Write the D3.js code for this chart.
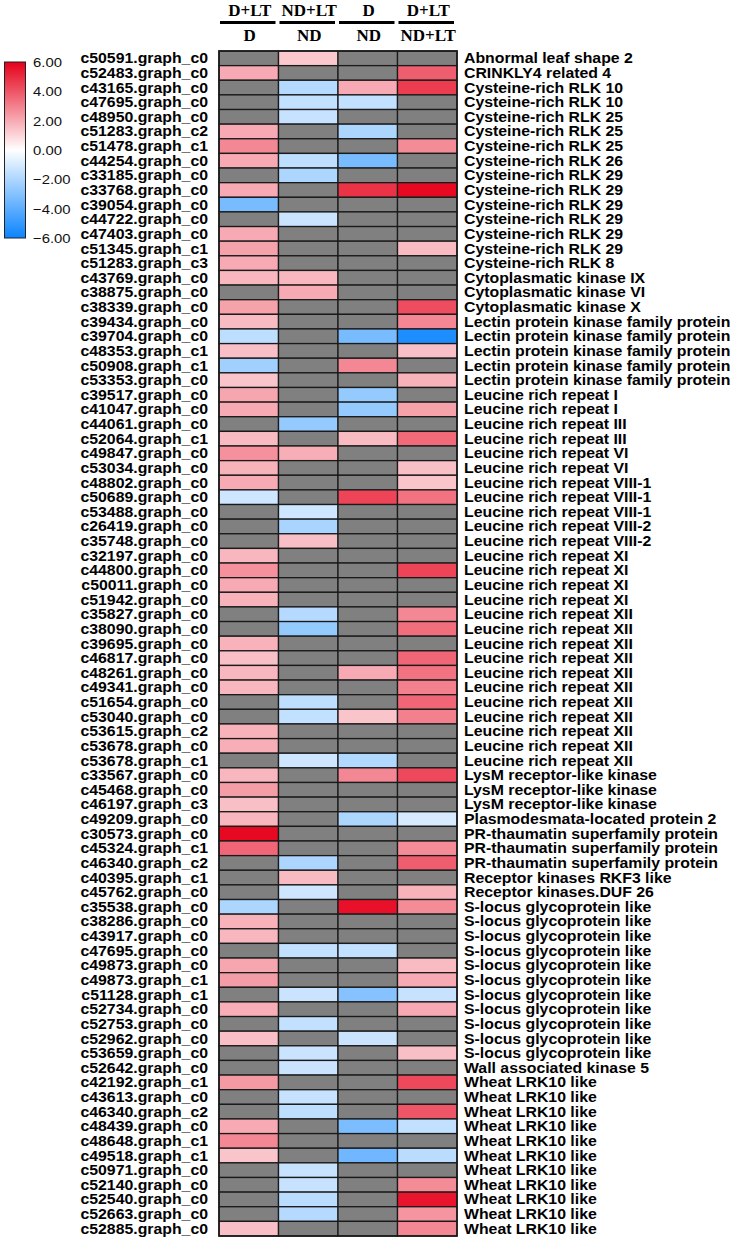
<!DOCTYPE html>
<html><head><meta charset="utf-8">
<script src="https://cdn.jsdelivr.net/npm/d3@7"></script>
<style>body{margin:0;background:#fff}svg{display:block}</style>
</head><body>
<svg id="chart" width="737" height="1241"></svg>
<script>
const genes = ["c50591.graph_c0","c52483.graph_c0","c43165.graph_c0","c47695.graph_c0","c48950.graph_c0","c51283.graph_c2","c51478.graph_c1","c44254.graph_c0","c33185.graph_c0","c33768.graph_c0",
"c39054.graph_c0","c44722.graph_c0","c47403.graph_c0","c51345.graph_c1","c51283.graph_c3","c43769.graph_c0","c38875.graph_c0","c38339.graph_c0","c39434.graph_c0","c39704.graph_c0",
"c48353.graph_c1","c50908.graph_c1","c53353.graph_c0","c39517.graph_c0","c41047.graph_c0","c44061.graph_c0","c52064.graph_c1","c49847.graph_c0","c53034.graph_c0","c48802.graph_c0",
"c50689.graph_c0","c53488.graph_c0","c26419.graph_c0","c35748.graph_c0","c32197.graph_c0","c44800.graph_c0","c50011.graph_c0","c51942.graph_c0","c35827.graph_c0","c38090.graph_c0",
"c39695.graph_c0","c46817.graph_c0","c48261.graph_c0","c49341.graph_c0","c51654.graph_c0","c53040.graph_c0","c53615.graph_c2","c53678.graph_c0","c53678.graph_c1","c33567.graph_c0",
"c45468.graph_c0","c46197.graph_c3","c49209.graph_c0","c30573.graph_c0","c45324.graph_c1","c46340.graph_c2","c40395.graph_c1","c45762.graph_c0","c35538.graph_c0","c38286.graph_c0",
"c43917.graph_c0","c47695.graph_c0","c49873.graph_c0","c49873.graph_c1","c51128.graph_c1","c52734.graph_c0","c52753.graph_c0","c52962.graph_c0","c53659.graph_c0","c52642.graph_c0",
"c42192.graph_c1","c43613.graph_c0","c46340.graph_c2","c48439.graph_c0","c48648.graph_c1","c49518.graph_c1","c50971.graph_c0","c52140.graph_c0","c52540.graph_c0","c52663.graph_c0","c52885.graph_c0"];

const annotations = ["Abnormal leaf shape 2","CRINKLY4 related 4","Cysteine-rich RLK 10","Cysteine-rich RLK 10","Cysteine-rich RLK 25","Cysteine-rich RLK 25","Cysteine-rich RLK 25","Cysteine-rich RLK 26","Cysteine-rich RLK 29","Cysteine-rich RLK 29",
"Cysteine-rich RLK 29","Cysteine-rich RLK 29","Cysteine-rich RLK 29","Cysteine-rich RLK 29","Cysteine-rich RLK 8","Cytoplasmatic kinase IX","Cytoplasmatic kinase VI","Cytoplasmatic kinase X","Lectin protein kinase family protein","Lectin protein kinase family protein",
"Lectin protein kinase family protein","Lectin protein kinase family protein","Lectin protein kinase family protein","Leucine rich repeat I","Leucine rich repeat I","Leucine rich repeat III","Leucine rich repeat III","Leucine rich repeat VI","Leucine rich repeat VI","Leucine rich repeat VIII-1",
"Leucine rich repeat VIII-1","Leucine rich repeat VIII-1","Leucine rich repeat VIII-2","Leucine rich repeat VIII-2","Leucine rich repeat XI","Leucine rich repeat XI","Leucine rich repeat XI","Leucine rich repeat XI","Leucine rich repeat XII","Leucine rich repeat XII",
"Leucine rich repeat XII","Leucine rich repeat XII","Leucine rich repeat XII","Leucine rich repeat XII","Leucine rich repeat XII","Leucine rich repeat XII","Leucine rich repeat XII","Leucine rich repeat XII","Leucine rich repeat XII","LysM receptor-like kinase",
"LysM receptor-like kinase","LysM receptor-like kinase","Plasmodesmata-located protein 2","PR-thaumatin superfamily protein","PR-thaumatin superfamily protein","PR-thaumatin superfamily protein","Receptor kinases RKF3 like","Receptor kinases.DUF 26","S-locus glycoprotein like","S-locus glycoprotein like",
"S-locus glycoprotein like","S-locus glycoprotein like","S-locus glycoprotein like","S-locus glycoprotein like","S-locus glycoprotein like","S-locus glycoprotein like","S-locus glycoprotein like","S-locus glycoprotein like","S-locus glycoprotein like","Wall associated kinase 5",
"Wheat LRK10 like","Wheat LRK10 like","Wheat LRK10 like","Wheat LRK10 like","Wheat LRK10 like","Wheat LRK10 like","Wheat LRK10 like","Wheat LRK10 like","Wheat LRK10 like","Wheat LRK10 like","Wheat LRK10 like"];

const topHeaders = ["D+LT","ND+LT","D","D+LT"];
const bottomHeaders = ["D","ND","ND","ND+LT"];

// log2 fold change; null = not significant (grey)
const DLT_vs_D = [null,2.0,null,null,null,2.0,2.8,2.0,null,2.0,
-3.3,null,2.0,2.2,2.0,1.7,null,2.2,1.6,-1.6,
1.5,-2.3,1.4,2.1,2.0,null,1.6,2.6,1.8,2.0,
-1.2,null,null,null,1.7,2.6,2.0,1.8,null,null,
1.8,1.5,1.7,1.7,null,null,1.8,1.9,null,1.7,
2.3,1.5,1.7,5.8,3.6,null,null,null,-2.0,1.8,
1.7,null,2.1,2.3,null,1.9,null,1.5,null,null,
2.4,null,null,2.0,2.8,1.4,null,null,null,null,1.5];
const NDLT_vs_ND = [1.3,null,-1.8,-1.5,-1.4,null,null,-1.6,-2.0,null,
null,-1.3,null,null,null,1.7,2.0,null,null,null,
null,null,null,null,null,-2.6,null,1.9,null,null,
null,-1.2,-2.1,1.5,null,null,null,null,-1.8,-2.6,
null,null,null,null,-1.6,-1.5,null,null,-1.2,null,
null,null,null,null,null,-2.0,1.6,-1.2,null,null,
null,-1.5,null,null,-1.3,null,-1.5,null,-1.3,-1.3,
null,-1.4,-1.6,null,null,null,-1.4,-1.4,-1.7,-1.8,null];
const D_vs_ND = [null,null,2.0,-1.5,null,-2.0,null,-3.3,null,4.8,
null,null,null,null,null,null,null,null,null,-3.3,
null,2.8,null,-2.6,-2.6,null,1.6,null,null,null,
4.4,null,null,null,null,null,null,null,null,null,
null,null,2.0,null,null,1.4,null,null,-1.9,2.8,
null,null,-2.0,null,null,null,null,null,5.6,null,
null,-1.5,null,null,-3.0,null,null,-1.3,null,null,
null,null,null,-3.2,null,-3.5,null,null,null,null,null];
const DLT_vs_NDLT = [null,3.8,4.6,null,null,null,2.7,null,null,5.8,
null,null,null,1.6,null,null,null,4.2,2.8,-5.5,
1.5,null,1.8,null,2.2,null,3.5,null,1.5,1.4,
3.3,null,null,null,null,4.4,null,null,2.8,3.4,
null,3.6,3.3,3.0,3.6,3.0,null,null,null,4.3,
null,null,-1.0,null,2.7,3.8,null,1.8,2.7,null,
null,null,1.6,2.0,-1.4,2.0,null,null,1.5,null,
4.3,null,4.0,-1.5,null,-1.7,null,2.7,5.5,2.5,2.8];

const legendTicks = [6,4,2,0,-2,-4,-6];

const columns = [DLT_vs_D, NDLT_vs_ND, D_vs_ND, DLT_vs_NDLT];

const svg = d3.select("#chart");
const heat = {x0:219, x1:457, y0:51, y1:1236};
const x = d3.scaleBand().domain(d3.range(columns.length)).range([heat.x0, heat.x1]);
const y = d3.scaleBand().domain(d3.range(genes.length)).range([heat.y0, heat.y1]);
const color = d3.scaleLinear().domain([-6,0,6]).range(["#0a84ff","#ffffff","#e6001a"]).clamp(true);
const NA = "#808080";

const cells = [];
columns.forEach((col,ci)=>col.forEach((v,ri)=>cells.push({ci,ri,v})));

svg.append("g").selectAll("rect").data(cells).join("rect")
  .attr("x", d=>x(d.ci)).attr("y", d=>y(d.ri))
  .attr("width", x.bandwidth()).attr("height", y.bandwidth())
  .attr("fill", d=>d.v==null?NA:color(d.v))
  .attr("stroke","#1a1a1a").attr("stroke-width",1.3);

svg.append("rect").attr("x",heat.x0).attr("y",heat.y0)
  .attr("width",heat.x1-heat.x0).attr("height",heat.y1-heat.y0)
  .attr("fill","none").attr("stroke","#1a1a1a").attr("stroke-width",1.6);

function stretch(sel, f){
  sel.each(function(){ const w=this.getComputedTextLength(); d3.select(this).attr("textLength", w*f).attr("lengthAdjust","spacingAndGlyphs"); });
}

// left gene labels
const gl = svg.append("g").selectAll("text").data(genes).join("text")
  .attr("x", 208).attr("y", (d,i)=>y(i)+y.bandwidth()/2+5)
  .attr("text-anchor","end")
  .style("font-family","'Liberation Sans', Arial, sans-serif")
  .style("font-weight","bold").style("font-size","14px").attr("fill","#000")
  .text(d=>d);
stretch(gl, 1.13);

// right annotation labels
const al = svg.append("g").selectAll("text").data(annotations).join("text")
  .attr("x", 464).attr("y", (d,i)=>y(i)+y.bandwidth()/2+5)
  .style("font-family","'Liberation Sans', Arial, sans-serif")
  .style("font-weight","bold").style("font-size","14px").attr("fill","#000")
  .text(d=>d);
stretch(al, 1.13);

// headers
const hg = svg.append("g");
columns.forEach((c,i)=>{
  const cx = x(i)+x.bandwidth()/2;
  hg.append("text").attr("x",cx+1).attr("y",16).attr("text-anchor","middle")
    .style("font-family","'Liberation Serif','Times New Roman',serif").style("font-weight","bold").style("font-size","17px")
    .text(topHeaders[i]);
  hg.append("line").attr("x1",x(i)+1).attr("x2",x(i)+x.bandwidth()-3).attr("y1",22.5).attr("y2",22.5)
    .attr("stroke","#000").attr("stroke-width",3.2);
  hg.append("text").attr("x",cx+1).attr("y",41).attr("text-anchor","middle")
    .style("font-family","'Liberation Serif','Times New Roman',serif").style("font-weight","bold").style("font-size","17px")
    .text(bottomHeaders[i]);
});

// legend
const ly = d3.scaleLinear().domain([6,-6]).range([62,238]);
const defs = svg.append("defs");
const grad = defs.append("linearGradient").attr("id","lg").attr("x1",0).attr("x2",0).attr("y1",0).attr("y2",1);
d3.range(6,-6.01,-1).forEach(v=>grad.append("stop").attr("offset",(6-v)/12).attr("stop-color",color(v)));
svg.append("rect").attr("x",4.5).attr("y",ly(6)).attr("width",21).attr("height",ly(-6)-ly(6))
  .attr("fill","url(#lg)").attr("stroke","#222").attr("stroke-width",1);
const lt = svg.append("g").selectAll("text").data(legendTicks).join("text")
  .attr("x",33).attr("y",d=>ly(d)+5)
  .style("font-family","'Liberation Sans', Arial, sans-serif").style("font-size","13.5px").attr("fill","#111")
  .text(d=>d3.format(".2f")(d));
stretch(lt, 1.1);
</script>
</body></html>
